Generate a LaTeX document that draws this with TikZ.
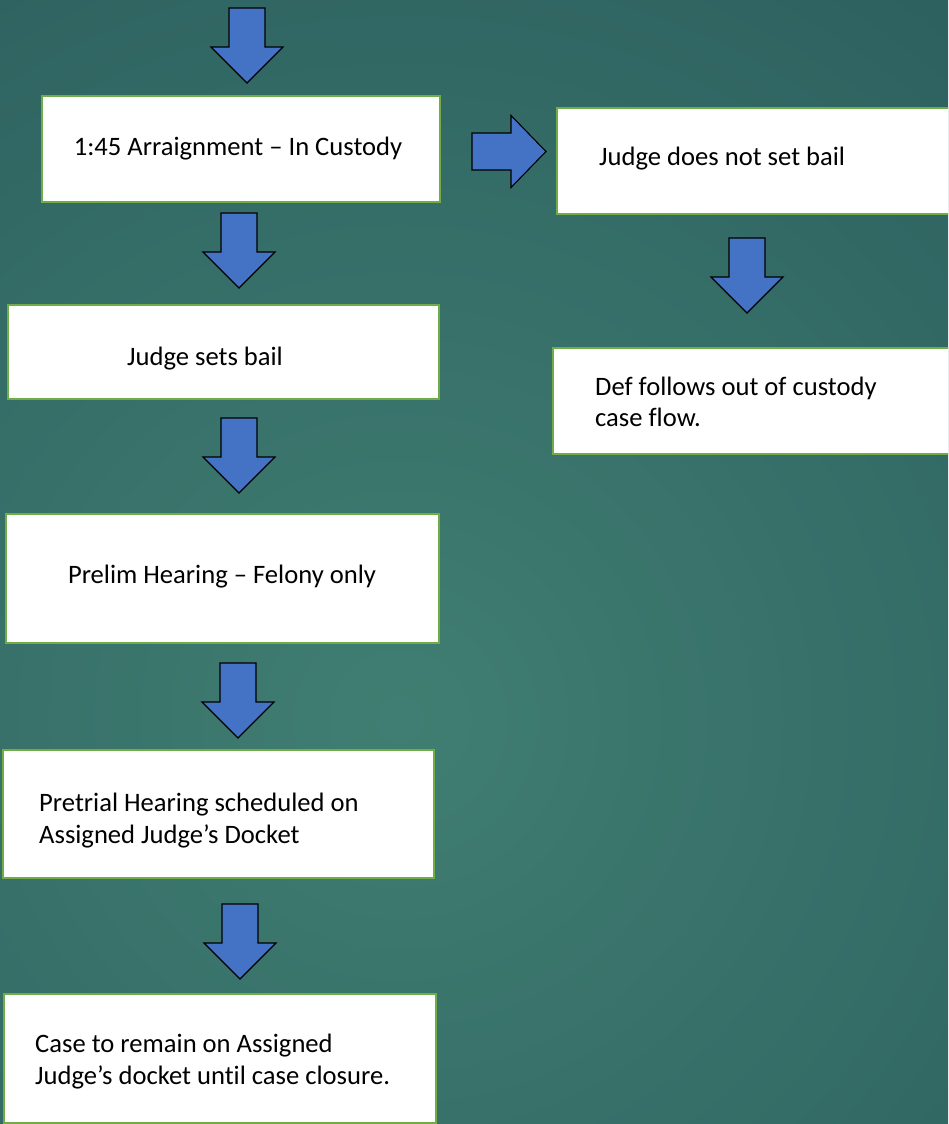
\documentclass[tikz,border=0pt]{standalone}
\usepackage{fontspec}
\setmainfont{Carlito}[Ligatures=NoCommon]
\definecolor{bglight}{HTML}{407E72}
\definecolor{bgdark}{HTML}{1D4850}
\definecolor{boxgreen}{HTML}{70AD47}
\definecolor{arrowblue}{HTML}{4472C4}
\begin{document}
\begin{tikzpicture}[x=1pt,y=-1pt,
  box/.style={draw=boxgreen, line width=2pt, fill=white, inner sep=0pt, anchor=north west},
  txt/.style={inner sep=0pt, font=\fontsize{26.6}{32}\selectfont, text=black},
  blockarrow/.style={draw=black, line width=1.1pt, fill=arrowblue, line join=miter},
  darrow/.pic={\draw[blockarrow] (-18,0) -- (18,0) -- (18,39) -- (36,39) -- (0,75) -- (-36,39) -- (-18,39) -- cycle;},
  rarrow/.pic={\draw[blockarrow] (0,-18.5) -- (39,-18.5) -- (39,-36) -- (74,0) -- (39,36) -- (39,18.5) -- (0,18.5) -- cycle;}
]
\path[use as bounding box] (0,0) rectangle (948,1124);
\clip (0,0) rectangle (948,1124);
\shade[inner color=bglight, outer color=bgdark] (400,720) circle (1650);

% boxes
\node[box, minimum width=398pt, minimum height=106pt] (b1) at (41,95) {};
\node[box, minimum width=431pt, minimum height=94pt] (b2) at (7,304) {};
\node[box, minimum width=433pt, minimum height=129pt] (b3) at (5,513) {};
\node[box, minimum width=431pt, minimum height=128pt] (b4) at (2,749) {};
\node[box, minimum width=432pt, minimum height=129pt] (b5) at (3,993) {};
\node[box, minimum width=404pt, minimum height=106pt] (r1) at (556,107) {};
\node[box, minimum width=408pt, minimum height=106pt] (r2) at (552,347) {};

% texts
\node[txt, anchor=base] (t1) at (238,155) {1:45 Arraignment – In Custody};
\node[txt, anchor=base] (t2) at (205,365) {Judge sets bail};
\node[txt, anchor=base] (t3) at (222,583) {Prelim Hearing – Felony only};
\node[txt, anchor=base west] (t4a) at (39,811) {Pretrial Hearing scheduled on};
\node[txt, anchor=base west] (t4b) at (39,843) {Assigned Judge’s Docket};
\node[txt, anchor=base west] (t5a) at (35,1052) {Case to remain on Assigned};
\node[txt, anchor=base west] (t5b) at (35,1084) {Judge’s docket until case closure.};
\node[txt, anchor=base west] (s1) at (599,165) {Judge does not set bail};
\node[txt, anchor=base west] (s2a) at (595,395) {Def follows out of custody};
\node[txt, anchor=base west] (s2b) at (595,426) {case flow.};

% block arrows
\pic (a0) at (247,8) {darrow};
\pic (a1) at (239,213) {darrow};
\pic (a2) at (239,418) {darrow};
\pic (a3) at (238,663) {darrow};
\pic (a4) at (240,904) {darrow};
\pic (ar) at (472,151.5) {rarrow};
\pic (ad) at (747,238) {darrow};
\end{tikzpicture}
\end{document}
